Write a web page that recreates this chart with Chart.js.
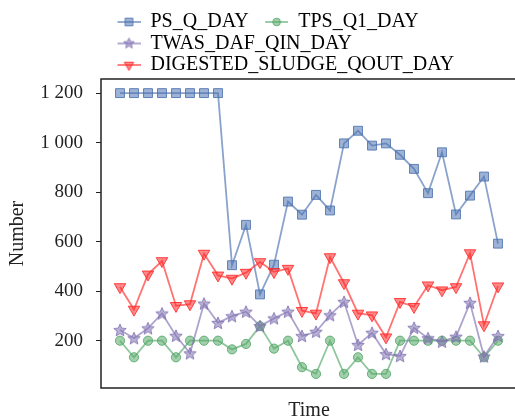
<!DOCTYPE html>
<html>
<head>
<meta charset="utf-8">
<script src="https://cdn.jsdelivr.net/npm/chart.js@4.4.1/dist/chart.umd.min.js"></script>
<style>
  html, body { margin: 0; padding: 0; background: #fff; overflow: hidden; width: 515px; height: 419px; }
  #vak { width: 515px; height: 419px; overflow: hidden; position: relative; }
  canvas { display: block; position: absolute; left: 0; top: 0; }
</style>
</head>
<body>
<div id="vak"><canvas id="grafiek" width="520" height="423"></canvas></div>
<script>
// gemeten waarden, 28 dagen
const dagIndex = Array.from({ length: 28 }, (_, i) => i);
const psQDay = [1200, 1200, 1200, 1200, 1200, 1200, 1200, 1200, 505, 668, 387, 507, 762, 709,
    789, 726, 997, 1048, 988, 997, 951, 894, 796, 961, 710, 786, 863, 592];
const tpsQ1Day = [200, 133, 200, 200, 133, 200, 200, 200, 165, 187, 259, 168, 200, 93,
    66, 200, 66, 133, 66, 66, 200, 200, 200, 200, 200, 200, 133, 200];
const twasDafQinDay = [243, 210, 250, 310, 220, 149, 350, 272, 299, 317, 259, 290, 317, 219,
    236, 303, 357, 183, 232, 146, 138, 252, 210, 196, 216, 353, 136, 219];
const digestedSludgeQoutDay = [417, 326, 468, 522, 341, 348, 552, 464, 451, 475, 518, 478, 491, 321,
    310, 538, 433, 310, 303, 214, 357, 337, 424, 404, 417, 554, 263, 420];
const yTicks = [200, 400, 600, 800, 1000, 1200];

const lettertype = "'Liberation Serif', 'Times New Roman', serif";

const series = [
    { naam: "PS_Q_DAY", data: psQDay, rgb: "76,114,176", marker: "rect" },
    { naam: "TPS_Q1_DAY", data: tpsQ1Day, rgb: "85,168,104", marker: "circle" },
    { naam: "TWAS_DAF_QIN_DAY", data: twasDafQinDay, rgb: "129,114,178", marker: "star" },
    { naam: "DIGESTED_SLUDGE_QOUT_DAY", data: digestedSludgeQoutDay, rgb: "255,40,40", marker: "triangle" }
];

function tekenMarker(g, soort, x, y, r, rgb) {
    g.fillStyle = `rgba(${rgb},0.55)`;
    g.strokeStyle = `rgba(${rgb},0.85)`;
    g.lineWidth = 1;
    g.beginPath();
    if (soort === "rect") {
        g.rect(x - r * 0.7, y - r * 0.7, r * 1.4, r * 1.4);
    } else if (soort === "circle") {
        g.arc(x, y, r * 0.7, 0, Math.PI * 2);
    } else if (soort === "star") {
        for (let k = 0; k < 10; k++) {
            const rr = k % 2 ? r * 0.45 : r;
            const a = -Math.PI / 2 + k * Math.PI / 5;
            g.lineTo(x + rr * Math.cos(a), y + rr * Math.sin(a));
        }
        g.closePath();
    } else {
        g.moveTo(x - r * 0.85, y - r * 0.5);
        g.lineTo(x + r * 0.85, y - r * 0.5);
        g.lineTo(x, y + r);
        g.closePath();
    }
    g.fill();
    g.stroke();
}

function sterBeeld(rgb) {
    const c = document.createElement('canvas');
    c.width = 16; c.height = 16;
    tekenMarker(c.getContext('2d'), "star", 8, 8.5, 6.5, rgb);
    return c;
}

function legendeBeeld(s) {
    const c = document.createElement('canvas');
    c.width = 38; c.height = 16;
    const g = c.getContext('2d');
    g.strokeStyle = `rgba(${s.rgb},0.65)`;
    g.lineWidth = 1.8;
    g.beginPath();
    g.moveTo(15, 8);
    g.lineTo(38, 8);
    g.stroke();
    tekenMarker(g, s.marker, 26.5, 8, 5.5, s.rgb);
    return c;
}

const datasets = series.map((s, idx) => ({
    label: s.naam,
    data: s.data.map((v, i) => ({ x: dagIndex[i], y: v })),
    borderColor: `rgba(${s.rgb},0.65)`,
    backgroundColor: `rgba(${s.rgb},0.55)`,
    borderWidth: 1.8,
    tension: 0,
    pointStyle: s.marker === "star" ? sterBeeld(s.rgb) : s.marker,
    pointRotation: s.marker === "triangle" ? 180 : 0,
    pointRadius: s.marker === "rect" ? 6.3 : (s.marker === "circle" ? 4.6 : 6.6),
    pointBorderColor: `rgba(${s.rgb},0.85)`,
    pointBackgroundColor: `rgba(${s.rgb},0.55)`,
    pointBorderWidth: 1,
    order: series.length - idx
}));

const kader = {
    id: 'kader',
    beforeDatasetsDraw(chart) {
        const { ctx, chartArea } = chart;
        ctx.save();
        ctx.strokeStyle = '#222';
        ctx.lineWidth = 1.5;
        ctx.strokeRect(chartArea.left, chartArea.top, chartArea.right - chartArea.left, chartArea.bottom - chartArea.top);
        ctx.restore();
    }
};

// legende iets minder hoog maken zodat het plotvak op dezelfde plaats begint
const legendeInkorten = {
    id: 'legendeInkorten',
    afterInit(chart) {
        const lg = chart.legend;
        const fit = lg.fit.bind(lg);
        lg.fit = () => { fit(); lg.height -= 6; };
    }
};

const ctx = document.getElementById('grafiek').getContext('2d');
new Chart(ctx, {
    type: 'line',
    data: { datasets: datasets },
    plugins: [kader, legendeInkorten],
    options: {
        responsive: false,
        animation: false,
        events: [],
        layout: { autoPadding: false, padding: { top: 10.5, right: 3, bottom: 0, left: 0 } },
        plugins: {
            tooltip: { enabled: false },
            legend: {
                display: true,
                position: 'top',
                align: 'start',
                fullSize: false,
                labels: {
                    usePointStyle: true,
                    pointStyleWidth: 38,
                    padding: 1.5,
                    color: '#222',
                    font: { family: lettertype, size: 20 },
                    generateLabels: function(chart) {
                        return series.map((s, i) => ({
                            text: s.naam,
                            pointStyle: legendeBeeld(s),
                            fillStyle: 'rgba(0,0,0,0)',
                            strokeStyle: 'rgba(0,0,0,0)',
                            lineWidth: 0,
                            rotation: 0,
                            hidden: false,
                            datasetIndex: i
                        }));
                    }
                }
            }
        },
        scales: {
            x: {
                type: 'linear',
                min: -1.357,
                max: 28.357,
                afterFit: function(scale) { scale.height = 35; },
                ticks: { display: false },
                grid: { display: false },
                border: { display: false },
                title: {
                    display: true,
                    text: 'Time',
                    color: '#222',
                    font: { family: lettertype, size: 20 },
                    padding: { top: 0, bottom: 0 }
                }
            },
            y: {
                min: 9,
                max: 1257,
                afterFit: function(scale) { scale.width = 101; },
                afterBuildTicks: function(axis) {
                    axis.ticks = yTicks.map(v => ({ value: v }));
                },
                ticks: {
                    color: '#222',
                    padding: 13,
                    font: { family: lettertype, size: 19 },
                    callback: function(v) {
                        return String(v).replace(/\B(?=(\d{3})+(?!\d))/g, ' ');
                    }
                },
                grid: {
                    display: true,
                    drawOnChartArea: false,
                    drawTicks: true,
                    tickLength: 5,
                    tickColor: '#222'
                },
                border: { display: false },
                title: {
                    display: true,
                    text: 'Number',
                    color: '#222',
                    font: { family: lettertype, size: 20 },
                    padding: { top: 5.5, bottom: 0 }
                }
            }
        }
    }
});
</script>
</body>
</html>
